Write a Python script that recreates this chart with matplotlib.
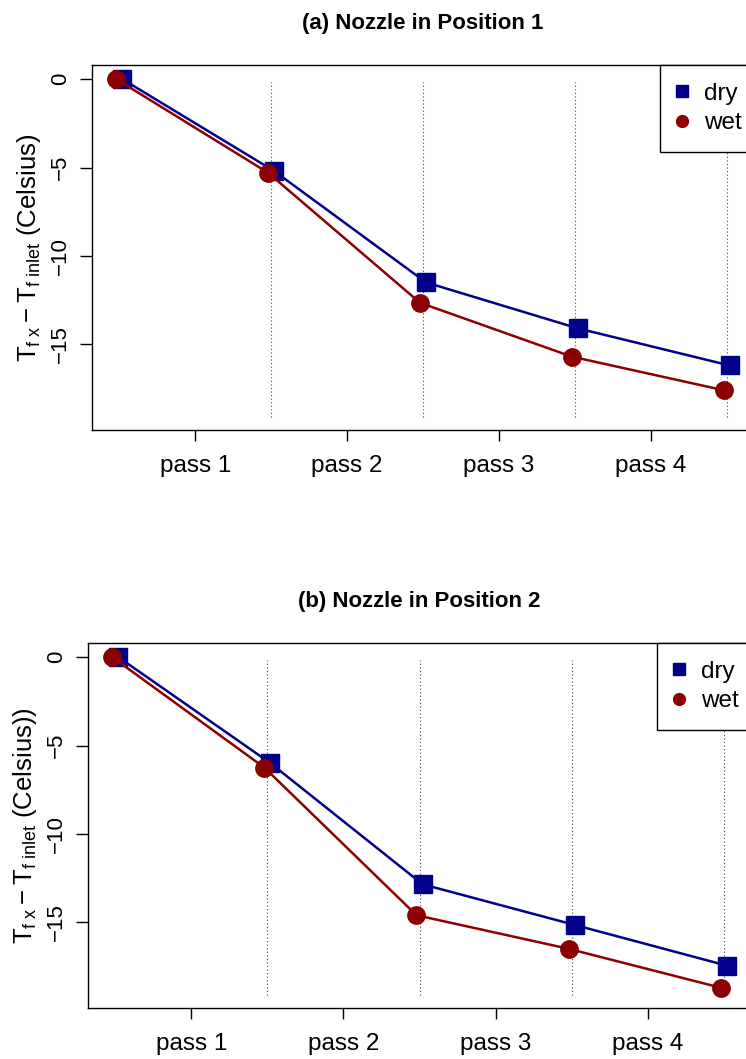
import numpy as np
import matplotlib.pyplot as plt

plt.rcParams['font.family'] = 'Liberation Sans'
plt.rcParams['mathtext.fontset'] = 'custom'
plt.rcParams['mathtext.rm'] = 'Liberation Sans'
plt.rcParams['mathtext.it'] = 'Liberation Sans'

# data
positions = [0.5, 1.5, 2.5, 3.5, 4.5]
pass_labels = ['pass 1', 'pass 2', 'pass 3', 'pass 4']
pass_ticks = [1, 2, 3, 4]
y_ticks = [0, -5, -10, -15]
separators = [1.5, 2.5, 3.5, 4.5]

dry_pos1 = [0.0, -5.2, -11.5, -14.1, -16.2]
wet_pos1 = [0.0, -5.3, -12.65, -15.7, -17.6]
dry_pos2 = [0.0, -6.0, -12.85, -15.15, -17.45]
wet_pos2 = [0.0, -6.25, -14.6, -16.5, -18.7]

titles = ['(a) Nozzle in Position 1', '(b) Nozzle in Position 2']
ylabels = [r'$\mathregular{T_{f\ x} - T_{f\ inlet}}$ (Celsius)',
           r'$\mathregular{T_{f\ x} - T_{f\ inlet}}$ (Celsius))']

dry_color = '#00008B'
wet_color = '#8B0000'
offset = 0.02

W, H = 746, 1059
fig = plt.figure(figsize=(W / 100, H / 100), dpi=100)

# axes boxes in pixels: left, top, right, bottom
boxes = [(92, 65, 754, 430), (88, 643, 751, 1008)]
panels = [(dry_pos1, wet_pos1), (dry_pos2, wet_pos2)]

for i, (box, (dry, wet)) in enumerate(zip(boxes, panels)):
    l, t, r, b = box
    ax = fig.add_axes([l / W, 1 - b / H, (r - l) / W, (b - t) / H])
    x = np.array(positions)

    ax.vlines(separators, -19.1, -0.17, colors='#444444', linestyles=(0, (1, 2.2)),
              linewidth=0.8)
    ax.plot(x + offset, dry, color=dry_color, lw=1.8, marker='s', ms=12.5,
            label='dry')
    ax.plot(x - offset, wet, color=wet_color, lw=1.8, marker='o', ms=12.5,
            label='wet')

    ax.set_xlim(0.32, 4.68)
    ax.set_ylim(-19.85, 0.8)
    ax.set_xticks(pass_ticks)
    ax.set_xticklabels(pass_labels, fontsize=17.5)
    ax.set_yticks(y_ticks)
    ax.set_yticklabels(['0', '\u22125', '\u221210', '\u221215'], fontsize=16,
                       rotation=90, va='center')
    ax.tick_params(axis='x', length=8, width=1, pad=10)
    ax.tick_params(axis='y', length=8.5, width=1, pad=6.5)
    for s in ax.spines.values():
        s.set_linewidth(1)

    ax.set_title(titles[i], fontsize=16, fontweight='bold', pad=26)
    ax.set_ylabel(ylabels[i], fontsize=18.5)
    ax.yaxis.set_label_coords(-0.074, 0.5)

    leg = ax.legend(loc='upper right', bbox_to_anchor=(1.008, 1), borderaxespad=0,
                    fontsize=17.5, fancybox=False, edgecolor='black',
                    framealpha=1, handlelength=0.4, handletextpad=0.67,
                    borderpad=0.74, labelspacing=0.3, markerscale=0.68)
    leg.get_frame().set_linewidth(1)
    for h in leg.legend_handles:
        h.set_linestyle('none')

fig.savefig('out.png', dpi=100)
